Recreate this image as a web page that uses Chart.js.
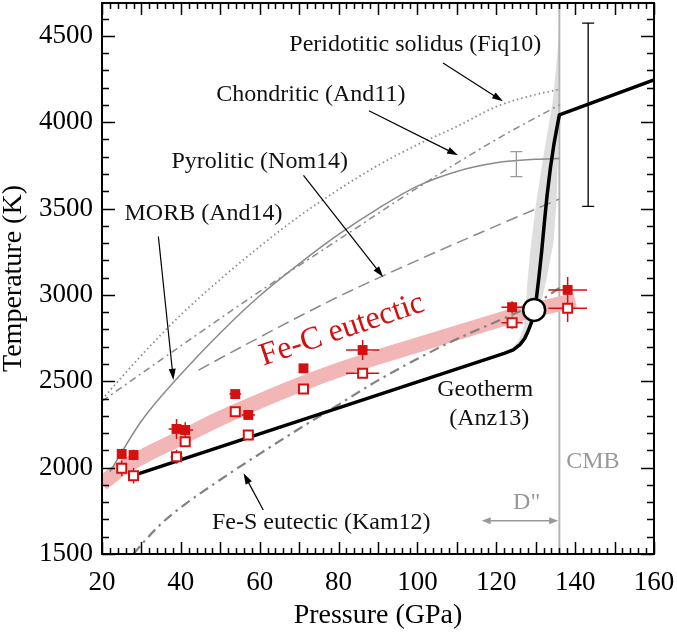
<!DOCTYPE html>
<html>
<head>
<meta charset="utf-8">
<script src="https://cdn.jsdelivr.net/npm/chart.js@4.4.0/dist/chart.umd.min.js"></script>
<style>
  html, body { margin: 0; padding: 0; background: #fff; }
  canvas { display: block; }
</style>
</head>
<body>
<canvas id="chart" width="677" height="632"></canvas>
<script>
const xTicks = [20, 40, 60, 80, 100, 120, 140, 160];
const yTicks = [1500, 2000, 2500, 3000, 3500, 4000, 4500];

// Fe-C eutectic measurements (filled = upper bound, open = lower bound)
const fecP = [25.0, 28.0, 38.9, 41.1, 53.8, 57.1, 71.1, 86.1, 124.0, 138.1];
const fecFilledT = [2079, 2073, 2224, 2218, 2426, 2305, 2575, 2681, 2929, 3029];
const fecOpenT = [1996, 1953, 2063, 2150, 2324, 2189, 2455, 2546, 2839, 2923];
const fecFilledErrP = [1.0, 1.0, 2.0, 2.0, 1.5, 1.7, 0.5, 4.2, 2.7, 4.9];
const fecFilledErrT = [30, 30, 58, 45, 20, 20, 15, 58, 35, 75];
const fecOpenErrP = [1.0, 1.0, 1.5, 0.8, 1.0, 1.3, 0.5, 4.2, 2.7, 4.9];
const fecOpenErrT = [45, 45, 40, 20, 20, 29, 15, 25, 35, 80];

// Fe-C eutectic melting curve (thick band)
const fecBandP = [20, 25, 30, 40, 50, 60, 70, 80, 90, 100, 110, 120, 130, 140];
const fecBandT = [1908, 1995, 2060, 2172, 2285, 2385, 2480, 2565, 2640, 2710, 2780, 2850, 2915, 2970];

// Geotherm (Anz13)
const geoP = [28, 122, 124.3, 126, 127.2, 128.1, 128.9, 129.6, 130.2, 130.8, 131.5, 132.2, 132.9, 133.7, 134.6, 135.4, 136, 160];
const geoT = [1955, 2662, 2682, 2712, 2748, 2792, 2840, 2913, 2985, 3100, 3250, 3420, 3580, 3730, 3870, 3970, 4042, 4245];

// uncertainty envelope of the thermal boundary layer
const envP = [123.5, 125.5, 126.8, 127.5, 127.8, 128.6, 130.2, 132.3, 134.4, 135.5, 136, 136, 135.3, 134.5, 132.7, 131.3, 129.5, 128.2, 126.5, 124.5];
const envT = [2680, 2730, 2800, 2900, 3050, 3250, 3550, 3850, 4130, 4400, 4580, 4100, 3550, 3300, 3087, 2950, 2850, 2770, 2710, 2685];

// mantle solidi
const peridP = [20, 30, 40, 50, 60, 70, 80, 90, 100, 110, 120, 130, 136];
const peridT = [2395, 2650, 2885, 3090, 3280, 3455, 3610, 3750, 3870, 3975, 4090, 4160, 4190];
const chondP = [20, 40, 60, 80, 100, 120, 136];
const chondT = [2385, 2705, 3020, 3320, 3620, 3900, 4100];
const morbP = [22, 30, 40, 50, 60, 70, 80, 90, 100, 110, 120, 130, 136];
const morbT = [1975, 2270, 2540, 2780, 2995, 3180, 3350, 3500, 3630, 3715, 3765, 3785, 3790];
const pyroP = [44.5, 60, 80, 100, 120, 136];
const pyroT = [2565, 2755, 2990, 3200, 3400, 3555];
const fesP = [28, 30, 35, 40, 50, 60, 70, 80, 90, 100, 110, 120, 130, 136];
const fesT = [1500, 1555, 1675, 1770, 1930, 2080, 2225, 2365, 2505, 2630, 2745, 2845, 2950, 3040];

// core-mantle boundary and eutectic point on the geotherm
const cmbP = [136, 136];
const cmbT = [1500, 4690];
const triP = [129.6];
const triT = [2913];

// single error bars (MORB solidus at CMB, CMB temperature range)
const barP = [125.1, 143.3];
const barLow = [3685, 3512];
const barHigh = [3829, 4573];

const pts = (ps, ts) => ps.map((p, i) => ({ x: p, y: ts[i] }));

const SERIF = "'Liberation Serif', 'Times New Roman', serif";
const RED = '#d41010';
const GREY = '#8a8a8a';

// annotation layout (data coordinates)
const labels = [
  { text: 'Peridotitic solidus (Fiq10)', p: 67.5, t: 4448, align: 'left' },
  { text: 'Chondritic (And11)', p: 49.0, t: 4158, align: 'left' },
  { text: 'Pyrolitic (Nom14)', p: 37.6, t: 3772, align: 'left' },
  { text: 'MORB (And14)', p: 25.7, t: 3473, align: 'left' },
  { text: 'Fe-S eutectic (Kam12)', p: 47.9, t: 1681, align: 'left' },
  { text: 'Geotherm', p: 117.2, t: 2454, align: 'center' },
  { text: '(Anz13)', p: 118.2, t: 2286, align: 'center' },
  { text: 'CMB', p: 144.5, t: 2035, align: 'center', color: '#999' },
  { text: 'D"', p: 127.7, t: 1797, align: 'center', color: '#999' }
];
const arrows = [
  [106.5, 4342, 121.7, 4121],
  [87.7, 4066, 110.3, 3808],
  [71.1, 3692, 91.3, 3104],
  [34.3, 3338, 38.1, 2508],
  [60.9, 1755, 55.9, 1967]
];

function arrowHead(ctx, x1, y1, x2, y2, len, half) {
  const a = Math.atan2(y2 - y1, x2 - x1);
  ctx.beginPath();
  ctx.moveTo(x2, y2);
  ctx.lineTo(x2 - len * Math.cos(a) + half * Math.sin(a), y2 - len * Math.sin(a) - half * Math.cos(a));
  ctx.lineTo(x2 - len * Math.cos(a) - half * Math.sin(a), y2 - len * Math.sin(a) + half * Math.cos(a));
  ctx.closePath();
  ctx.fill();
}

function drawArrow(ctx, x1, y1, x2, y2, len, half) {
  const a = Math.atan2(y2 - y1, x2 - x1);
  ctx.beginPath();
  ctx.moveTo(x1, y1);
  ctx.lineTo(x2 - (len - 1) * Math.cos(a), y2 - (len - 1) * Math.sin(a));
  ctx.stroke();
  arrowHead(ctx, x1, y1, x2, y2, len, half);
}

const decor = {
  id: 'decor',
  afterDatasetDraw(chart, args) {
    // error bars of the Fe-C points go right under the markers
    if (chart.data.datasets[args.index].label !== 'Geotherm') return;
    const { ctx, scales: { x, y } } = chart;
    ctx.save();
    ctx.strokeStyle = RED;
    ctx.lineWidth = 1.5;
    ctx.beginPath();
    const add = (ts, eps, ets) => fecP.forEach((p, i) => {
      ctx.moveTo(x.getPixelForValue(p - eps[i]), y.getPixelForValue(ts[i]));
      ctx.lineTo(x.getPixelForValue(p + eps[i]), y.getPixelForValue(ts[i]));
      ctx.moveTo(x.getPixelForValue(p), y.getPixelForValue(ts[i] - ets[i]));
      ctx.lineTo(x.getPixelForValue(p), y.getPixelForValue(ts[i] + ets[i]));
    });
    add(fecFilledT, fecFilledErrP, fecFilledErrT);
    add(fecOpenT, fecOpenErrP, fecOpenErrT);
    ctx.stroke();
    ctx.restore();
  },
  afterDatasetsDraw(chart) {
    const { ctx, chartArea: a, scales: { x, y } } = chart;
    ctx.save();

    // single error bars
    barP.forEach((p, i) => {
      ctx.strokeStyle = i === 0 ? '#999' : '#000';
      ctx.lineWidth = 1.3;
      const px = x.getPixelForValue(p);
      const lo = y.getPixelForValue(barLow[i]);
      const hi = y.getPixelForValue(barHigh[i]);
      ctx.beginPath();
      ctx.moveTo(px, lo); ctx.lineTo(px, hi);
      ctx.moveTo(px - 6, lo); ctx.lineTo(px + 6, lo);
      ctx.moveTo(px - 6, hi); ctx.lineTo(px + 6, hi);
      ctx.stroke();
    });

    // pointer arrows
    ctx.strokeStyle = '#000';
    ctx.fillStyle = '#000';
    ctx.lineWidth = 1.2;
    arrows.forEach(([p1, t1, p2, t2]) => {
      drawArrow(ctx, x.getPixelForValue(p1), y.getPixelForValue(t1),
        x.getPixelForValue(p2), y.getPixelForValue(t2), 11, 3.5);
    });

    // D'' double arrow
    ctx.strokeStyle = '#999';
    ctx.fillStyle = '#999';
    ctx.lineWidth = 1.5;
    const dy = y.getPixelForValue(1693);
    const dx1 = x.getPixelForValue(116.3);
    const dx2 = x.getPixelForValue(135.7);
    ctx.beginPath();
    ctx.moveTo(dx1 + 6, dy); ctx.lineTo(dx2 - 6, dy);
    ctx.stroke();
    arrowHead(ctx, dx2, dy, dx1, dy, 9, 3.5);
    arrowHead(ctx, dx1, dy, dx2, dy, 9, 3.5);

    // text labels
    ctx.textBaseline = 'middle';
    ctx.font = '24px ' + SERIF;
    labels.forEach(l => {
      ctx.fillStyle = l.color || '#111';
      ctx.textAlign = l.align;
      ctx.fillText(l.text, x.getPixelForValue(l.p), y.getPixelForValue(l.t));
    });
    ctx.save();
    ctx.translate(x.getPixelForValue(80.9), y.getPixelForValue(2797));
    ctx.rotate(-18.7 * Math.PI / 180);
    ctx.fillStyle = RED;
    ctx.textAlign = 'center';
    ctx.font = '32px ' + SERIF;
    ctx.fillText('Fe-C eutectic', 0, 0);
    ctx.restore();

    // frame with inward ticks on all four sides
    ctx.strokeStyle = '#000';
    ctx.lineWidth = 1.5;
    ctx.beginPath();
    for (let t = 1500; t <= 4690; t += 100) {
      const py = Math.round(y.getPixelForValue(t)) + 0.5;
      const len = t % 500 === 0 ? 13 : 7;
      ctx.moveTo(a.left, py); ctx.lineTo(a.left + len, py);
      ctx.moveTo(a.right, py); ctx.lineTo(a.right - len, py);
    }
    for (let p = 20; p <= 160; p += 2) {
      const px = Math.round(x.getPixelForValue(p)) + 0.5;
      const len = p % 10 === 0 ? 12 : 6;
      ctx.moveTo(px, a.bottom); ctx.lineTo(px, a.bottom - len);
      ctx.moveTo(px, a.top); ctx.lineTo(px, a.top + len);
    }
    ctx.stroke();
    ctx.lineWidth = 2;
    ctx.strokeRect(a.left, a.top, a.right - a.left, a.bottom - a.top);
    ctx.restore();
  }
};

const curve = (label, ps, ts, extra) => Object.assign({
  label, data: pts(ps, ts), showLine: true, pointRadius: 0,
  borderColor: GREY, borderWidth: 1.5, cubicInterpolationMode: 'monotone', order: 7
}, extra);

new Chart(document.getElementById('chart'), {
  type: 'scatter',
  data: {
    datasets: [
      { label: 'Envelope', data: pts(envP, envT), showLine: true, pointRadius: 0, borderWidth: 0,
        borderColor: 'rgba(0,0,0,0)', backgroundColor: '#dedede', fill: 'shape', order: 10 },
      { label: 'CMB', data: pts(cmbP, cmbT), showLine: true, pointRadius: 0,
        borderColor: '#b4b4b4', borderWidth: 2, order: 9 },
      { label: 'Fe-C eutectic', data: pts(fecBandP, fecBandT), showLine: true, pointRadius: 0,
        borderColor: '#f2b6b6', borderWidth: 15, borderCapStyle: 'butt',
        cubicInterpolationMode: 'monotone', order: 8 },
      curve('Peridotitic solidus (Fiq10)', peridP, peridT, { borderDash: [1.5, 3], borderWidth: 1.8 }),
      curve('Chondritic (And11)', chondP, chondT, { borderDash: [7, 4, 2, 4] }),
      curve('MORB (And14)', morbP, morbT, {}),
      curve('Pyrolitic (Nom14)', pyroP, pyroT, { borderDash: [12, 6] }),
      curve('Fe-S eutectic (Kam12)', fesP, fesT, { borderDash: [10, 5, 2.5, 5], borderWidth: 2.2, borderColor: '#828282' }),
      { label: 'Geotherm', data: pts(geoP, geoT), showLine: true, pointRadius: 0,
        borderColor: '#000', borderWidth: 3.5, borderJoinStyle: 'round', order: 5 },
      { label: 'Fe-C open', data: pts(fecP, fecOpenT), pointStyle: 'rect', pointRadius: 6.4,
        pointBackgroundColor: '#fff', pointBorderColor: RED, pointBorderWidth: 2, order: 3 },
      { label: 'Fe-C filled', data: pts(fecP, fecFilledT), pointStyle: 'rect', pointRadius: 7,
        pointBackgroundColor: RED, pointBorderColor: RED, pointBorderWidth: 0, order: 3 },
      { label: 'Eutectic point', data: pts(triP, triT), pointStyle: 'circle', pointRadius: 11,
        pointBackgroundColor: '#fff', pointBorderColor: '#000', pointBorderWidth: 2.5, order: 1 }
    ]
  },
  options: {
    responsive: false,
    animation: false,
    devicePixelRatio: 1,
    layout: { autoPadding: false, padding: { top: 3, right: 23, bottom: 0, left: 0 } },
    plugins: { legend: { display: false }, tooltip: { enabled: false } },
    scales: {
      x: {
        type: 'linear', min: 20, max: 160,
        afterBuildTicks: s => { s.ticks = xTicks.map(v => ({ value: v })); },
        afterFit: s => { s.height = 78; s.paddingLeft = 0; s.paddingRight = 0; },
        grid: { display: false, drawTicks: false },
        border: { display: false },
        ticks: { color: '#000', padding: 13, maxRotation: 0, autoSkip: false,
          callback: v => String(v), font: { family: SERIF, size: 27 } },
        title: { display: true, text: 'Pressure (GPa)', color: '#000', padding: 0,
          font: { family: SERIF, size: 28 } }
      },
      y: {
        type: 'linear', min: 1500, max: 4690,
        afterBuildTicks: s => { s.ticks = yTicks.map(v => ({ value: v })); },
        afterFit: s => { s.width = 102; s.paddingTop = 0; s.paddingBottom = 0; },
        grid: { display: false, drawTicks: false },
        border: { display: false },
        ticks: { color: '#000', padding: 9, autoSkip: false,
          callback: v => String(v), font: { family: SERIF, size: 27 } },
        title: { display: true, text: 'Temperature (K)', color: '#000', padding: 0,
          font: { family: SERIF, size: 28, lineHeight: 1 } }
      }
    }
  },
  plugins: [decor]
});
</script>
</body>
</html>
